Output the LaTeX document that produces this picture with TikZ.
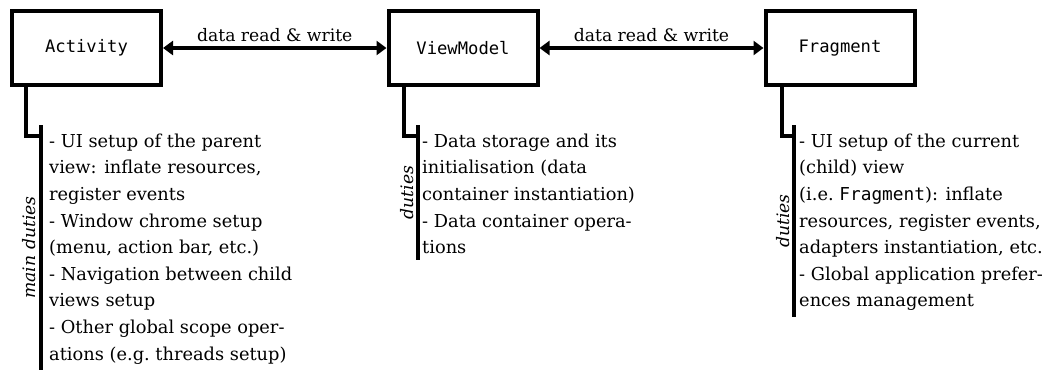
\documentclass[tikz,border=0pt]{standalone}
\usepackage{fontspec}
\setmainfont{DejaVu Serif}
\setmonofont{DejaVu Sans Mono}
\usetikzlibrary{arrows.meta,calc}

\begin{document}
\begin{tikzpicture}[x=1pt,y=-1pt,
  comp/.style={draw, line width=4pt, minimum width=149pt, minimum height=74pt,
    inner sep=0pt, font=\fontsize{17.2}{20}\selectfont\ttfamily},
  link/.style={line width=4pt,
    {Triangle[length=10pt,width=14pt]}-{Triangle[length=10pt,width=14pt]}},
  lbl/.style={font=\fontsize{17.2}{20}\selectfont, inner sep=0pt, anchor=base, yshift=7pt},
  stem/.style={line width=4pt},
  duty/.style={align=left, inner sep=0pt, anchor=north west,
    font=\fontsize{17.8}{26.6}\selectfont},
  side/.style={rotate=90, anchor=base, inner sep=0pt,
    font=\fontsize{17.2}{20}\selectfont\itshape}
]
\useasboundingbox (0,0) rectangle (1051,370);

% components
\node[comp] (act) at (86.5,48) {Activity};
\node[comp] (vm)  at (463,48)  {ViewModel};
\node[comp] (frg) at (840,48)  {Fragment};

% data exchange
\draw[link] (act.east) -- node[lbl] {data read \& write} (vm.west);
\draw[link] (vm.east)  -- node[lbl] {data read \& write} (frg.west);

% duty bars
\coordinate (actTop) at (41,125);   \coordinate (actBot) at (41,370);
\coordinate (vmTop)  at (418,125);  \coordinate (vmBot)  at (418,260);
\coordinate (frgTop) at (794,125);  \coordinate (frgBot) at (794,317);

\draw[stem] (actTop) -- (actBot);
\draw[stem] (vmTop)  -- (vmBot);
\draw[stem] (frgTop) -- (frgBot);

\draw[stem] ($(act.south west)+(16,0)$) |- ($(actTop)+(0,11)$);
\draw[stem] ($(vm.south west)+(17,0)$)  |- ($(vmTop)+(0,11)$);
\draw[stem] ($(frg.south west)+(18,0)$) |- ($(frgTop)+(0,11)$);

% side captions
\node[side] (actCap) at ($(actTop)!0.5!(actBot)+(-6,0)$) {main duties};
\node[side] (vmCap)  at ($(vmTop)!0.5!(vmBot)+(-5,0)$)  {duties};
\node[side] (frgCap) at ($(frgTop)!0.5!(frgBot)+(-5,0)$) {duties};

% duty lists
\node[duty] (actTxt) at (49,133.5) {- UI setup of the parent\\
view: inflate resources,\\
register events\\
- Window chrome setup\\
(menu, action bar, etc.)\\
- Navigation between child\\
views setup\\
- Other global scope oper-\\
ations (e.g.\ threads setup)};

\node[duty] (vmTxt) at (422,133.5) {- Data storage and its\\
initialisation (data\\
container instantiation)\\
- Data container opera-\\
tions};

\node[duty] (frgTxt) at (799,133.5) {- UI setup of the current\\
(child) view\\
(i.e.\ \texttt{Fragment}): inflate\\
resources, register events,\\
adapters instantiation, etc.\\
- Global application prefer-\\
ences management};
\end{tikzpicture}
\end{document}
